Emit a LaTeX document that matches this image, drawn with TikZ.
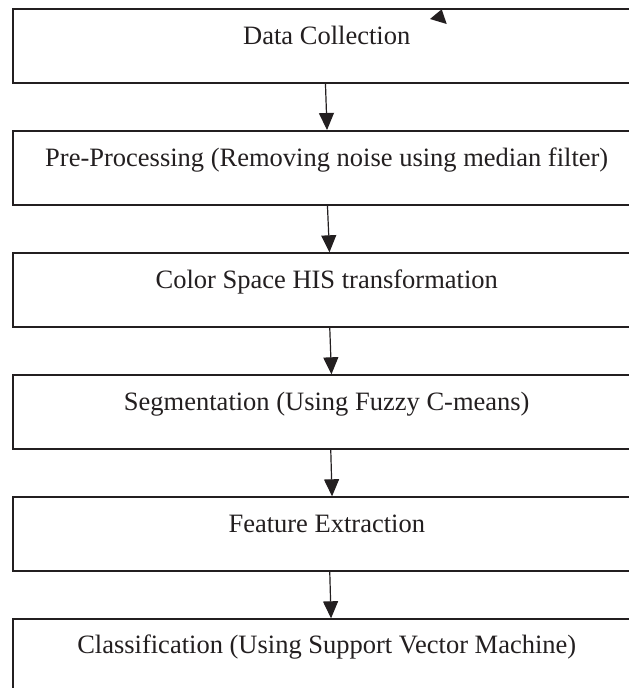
\documentclass[tikz,border=0pt]{standalone}
\usepackage{fontspec}
\setmainfont{Liberation Serif}
\usetikzlibrary{arrows.meta}
\definecolor{ink}{RGB}{35,31,32}
\begin{document}
\begin{tikzpicture}[x=1pt,y=1pt,
  stagebox/.style={draw=ink, line width=1.5pt, anchor=north west, minimum width=628pt, minimum height=74pt, inner sep=0pt},
  stagetext/.style={anchor=base, inner sep=0pt, text=ink, font=\fontsize{26.5}{30}\selectfont},
  flow/.style={draw=ink, line width=1.2pt, -{Triangle[length=17pt,width=15pt]}}]
\useasboundingbox (0,0) rectangle (629,-688);
\clip (0,0) rectangle (629,-688);
\fill[white] (0,0) rectangle (629,-688);
\node[stagebox] (b1) at (12,-8) {};
\node[stagebox] (b2) at (12,-130) {};
\node[stagebox] (b3) at (12,-252.3) {};
\node[stagebox] (b4) at (12,-374.3) {};
\node[stagebox] (b5) at (12,-496.3) {};
\node[stagebox] (b6) at (12,-618.3) {};
\node[stagetext] (t1) at ([yshift=-36.5pt]b1.north) {Data Collection};
\node[stagetext] (t2) at ([yshift=-36pt]b2.north) {Pre-Processing (Removing noise using median filter)};
\node[stagetext] (t3) at ([yshift=-36pt]b3.north) {Color Space HIS transformation};
\node[stagetext] (t4) at ([yshift=-36pt]b4.north) {Segmentation (Using Fuzzy C-means)};
\node[stagetext] (t5) at ([yshift=-36pt]b5.north) {Feature Extraction};
\node[stagetext] (t6) at ([yshift=-35pt]b6.north) {Classification (Using Support Vector Machine)};
\draw[flow] ([xshift=-1.3pt]b1.south) -- ([xshift=0.3pt]b2.north);
\draw[flow] ([xshift=0.7pt]b2.south) -- ([xshift=2.7pt]b3.north);
\draw[flow] ([xshift=3pt]b3.south) -- ([xshift=4.7pt]b4.north);
\draw[flow] ([xshift=4pt]b4.south) -- ([xshift=5.3pt]b5.north);
\draw[flow] ([xshift=3pt]b5.south) -- ([xshift=4.3pt]b6.north);
\fill[ink] (441.7,-9.3) -- (430,-19) -- (446.7,-24) -- cycle;
\end{tikzpicture}
\end{document}
